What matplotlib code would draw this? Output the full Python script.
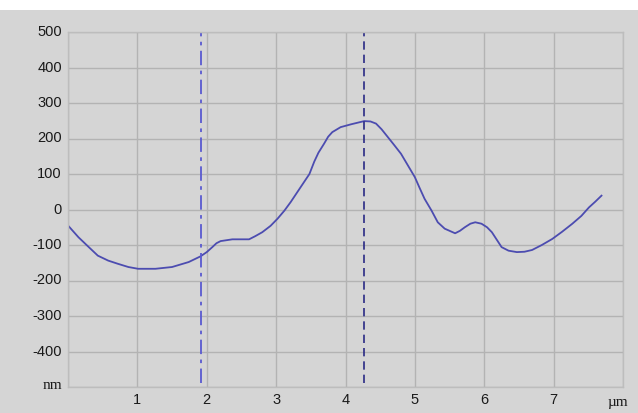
import matplotlib.pyplot as plt
from matplotlib.patches import Rectangle

# profile (um, nm)
x_um = [0.0, 0.15, 0.30, 0.43, 0.58, 0.72, 0.87, 1.01, 1.26, 1.50, 1.74, 1.91,
        2.00, 2.08, 2.14, 2.20, 2.37, 2.61, 2.70, 2.80, 2.92, 3.02, 3.12, 3.21,
        3.35, 3.48, 3.55, 3.61, 3.69, 3.75, 3.81, 3.93, 4.08, 4.27, 4.36, 4.44,
        4.52, 4.61, 4.70, 4.80, 4.90, 5.00, 5.07, 5.14, 5.24, 5.33, 5.43, 5.58,
        5.65, 5.72, 5.80, 5.87, 5.96, 6.04, 6.11, 6.18, 6.25, 6.35, 6.47, 6.58,
        6.69, 6.83, 6.98, 7.12, 7.27, 7.40, 7.51, 7.60, 7.69]
z_nm = [-45, -78, -106, -130, -144, -153, -162, -167, -167, -162, -148, -132,
        -120, -106, -95, -89, -84, -84, -75, -64, -46, -26, -3, 21,
        62, 100, 135, 160, 185, 205, 218, 232, 240, 249, 248, 242,
        226, 204, 182, 157, 124, 91, 60, 30, -3, -36, -54, -67,
        -60, -50, -40, -36, -40, -50, -64, -85, -106, -116, -120, -119,
        -114, -100, -83, -63, -40, -18, 6, 22, 39]

cursor1 = 1.91
cursor2 = 4.26

y_ticks = [500, 400, 300, 200, 100, 0, -100, -200, -300, -400]
x_ticks = [1, 2, 3, 4, 5, 6, 7]

bg = '#d5d5d5'
fig = plt.figure(figsize=(6.38, 4.13), dpi=100, facecolor=bg)
fig.patches.append(Rectangle((0, 1 - 10 / 413), 1, 10 / 413, transform=fig.transFigure,
                             facecolor='white', edgecolor='none', zorder=0))

ax = fig.add_axes([68 / 638, 1 - 387 / 413, 555 / 638, 355 / 413])
ax.set_facecolor(bg)
ax.set_xlim(0, 8)
ax.set_ylim(-500, 500)

ax.set_xticks(range(0, 9))
ax.set_yticks(range(-500, 501, 100))
ax.grid(True, color='#b3b3b3', linewidth=1)
ax.tick_params(length=0, labelbottom=False, labelleft=False)
for s in ax.spines.values():
    s.set_color('#bdbdbd')
    s.set_linewidth(1)

for v in y_ticks:
    ax.text(-0.09, v, str(v), ha='right', va='center', fontsize=10.5,
            family='Liberation Sans', color='#1a1a1a')
ax.text(-0.09, -495, 'nm', ha='right', va='center', fontsize=11,
        family='Liberation Serif', color='#1a1a1a')
for v in x_ticks:
    ax.text(v, -537, str(v), ha='center', va='center', fontsize=10.5,
            family='Liberation Sans', color='#1a1a1a')
ax.text(7.92, -545, 'µm', ha='center', va='center', fontsize=11,
        family='Liberation Serif', color='#1a1a1a', clip_on=False)

ax.plot(x_um, z_nm, color='#4c4cb0', linewidth=1.3)
ax.vlines(cursor1, -490, 500, colors='#5a5ad0', linestyles=(0, (8, 3, 2, 3)), linewidth=1.3)
ax.vlines(cursor2, -490, 500, colors='#2a2a85', linestyles=(0, (5, 3)), linewidth=1.2)

plt.savefig('out.png', dpi=100, facecolor=bg)
